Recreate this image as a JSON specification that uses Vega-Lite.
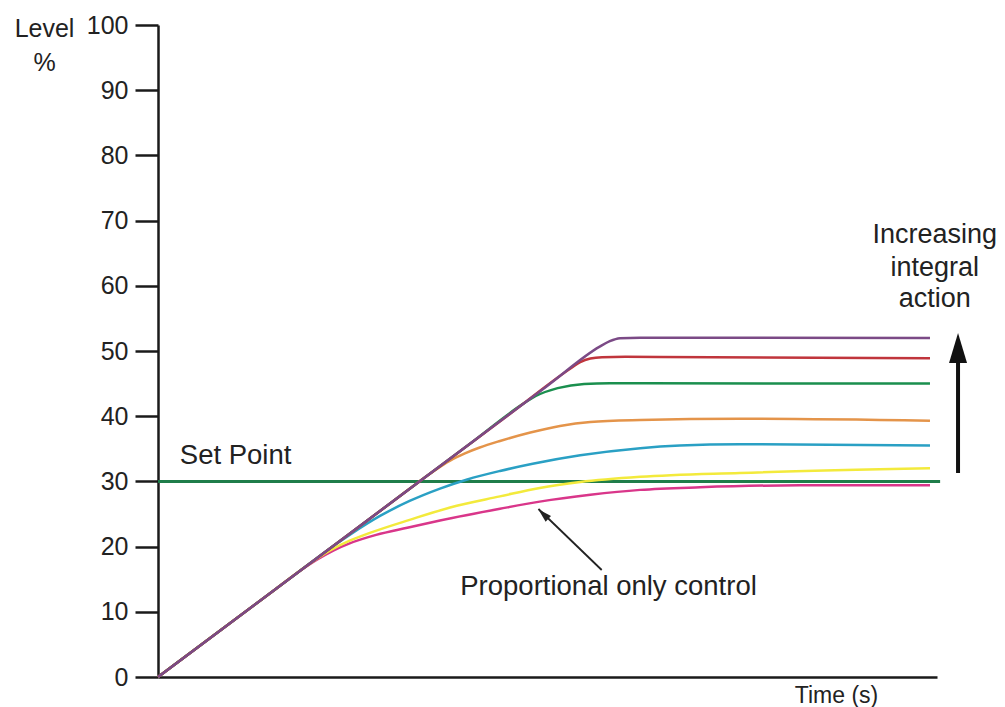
{
  "$schema": "https://vega.github.io/schema/vega-lite/v6.json",
  "width": 779,
  "height": 652,
  "autosize": {"type": "none"},
  "padding": {"left": 158, "top": 25, "right": 68, "bottom": 30},
  "background": "white",
  "config": {
    "view": {"stroke": null},
    "font": "Liberation Sans",
    "axis": {"labelFont": "Liberation Sans", "titleFont": "Liberation Sans", "titleFontWeight": "normal", "grid": false, "domainColor": "#1a1a1a", "tickColor": "#1a1a1a", "labelColor": "#222222", "titleColor": "#222222"}
  },
  "datasets": {
    "curves": [
      {"s": "P only", "t": 0, "v": 0},
      {"s": "P only", "t": 15, "v": 13.4},
      {"s": "P only", "t": 18.2, "v": 16.26},
      {"s": "P only", "t": 20.4, "v": 18.0},
      {"s": "P only", "t": 22.5, "v": 19.4},
      {"s": "P only", "t": 24.6, "v": 20.5},
      {"s": "P only", "t": 28.0, "v": 21.8},
      {"s": "P only", "t": 32.0, "v": 22.9},
      {"s": "P only", "t": 36.2, "v": 24.0},
      {"s": "P only", "t": 43.9, "v": 25.8},
      {"s": "P only", "t": 49.0, "v": 26.9},
      {"s": "P only", "t": 55.5, "v": 27.95},
      {"s": "P only", "t": 61.9, "v": 28.7},
      {"s": "P only", "t": 69.6, "v": 29.1},
      {"s": "P only", "t": 82.4, "v": 29.4},
      {"s": "P only", "t": 99.1, "v": 29.4},
      {"s": "I1", "t": 0, "v": 0},
      {"s": "I1", "t": 15, "v": 13.4},
      {"s": "I1", "t": 19.5, "v": 17.42},
      {"s": "I1", "t": 22.1, "v": 19.4},
      {"s": "I1", "t": 24.6, "v": 20.9},
      {"s": "I1", "t": 27.2, "v": 22.1},
      {"s": "I1", "t": 32.3, "v": 24.1},
      {"s": "I1", "t": 37.5, "v": 26.0},
      {"s": "I1", "t": 43.9, "v": 27.7},
      {"s": "I1", "t": 49.0, "v": 29.0},
      {"s": "I1", "t": 54.2, "v": 29.9},
      {"s": "I1", "t": 61.9, "v": 30.7},
      {"s": "I1", "t": 74.7, "v": 31.3},
      {"s": "I1", "t": 99.1, "v": 32.0},
      {"s": "I2", "t": 0, "v": 0},
      {"s": "I2", "t": 18, "v": 16.08},
      {"s": "I2", "t": 22.1, "v": 19.75},
      {"s": "I2", "t": 24.6, "v": 21.8},
      {"s": "I2", "t": 28.5, "v": 24.7},
      {"s": "I2", "t": 32.3, "v": 27.0},
      {"s": "I2", "t": 36.2, "v": 28.9},
      {"s": "I2", "t": 39.7, "v": 30.3},
      {"s": "I2", "t": 43.9, "v": 31.6},
      {"s": "I2", "t": 48.1, "v": 32.7},
      {"s": "I2", "t": 54.2, "v": 34.0},
      {"s": "I2", "t": 61.9, "v": 35.1},
      {"s": "I2", "t": 67.0, "v": 35.5},
      {"s": "I2", "t": 74.7, "v": 35.7},
      {"s": "I2", "t": 99.1, "v": 35.5},
      {"s": "I3", "t": 0, "v": 0},
      {"s": "I3", "t": 30, "v": 26.8},
      {"s": "I3", "t": 34.9, "v": 31.18},
      {"s": "I3", "t": 37.5, "v": 33.2},
      {"s": "I3", "t": 39.4, "v": 34.3},
      {"s": "I3", "t": 41.3, "v": 35.2},
      {"s": "I3", "t": 43.9, "v": 36.2},
      {"s": "I3", "t": 47.8, "v": 37.5},
      {"s": "I3", "t": 51.6, "v": 38.5},
      {"s": "I3", "t": 55.5, "v": 39.1},
      {"s": "I3", "t": 61.9, "v": 39.4},
      {"s": "I3", "t": 74.7, "v": 39.6},
      {"s": "I3", "t": 99.1, "v": 39.3},
      {"s": "I4", "t": 0, "v": 0},
      {"s": "I4", "t": 40, "v": 35.74},
      {"s": "I4", "t": 47.0, "v": 42.0},
      {"s": "I4", "t": 48.5, "v": 43.1},
      {"s": "I4", "t": 51.3, "v": 44.3},
      {"s": "I4", "t": 54.7, "v": 44.95},
      {"s": "I4", "t": 58.0, "v": 45.05},
      {"s": "I4", "t": 99.1, "v": 45.0},
      {"s": "I5", "t": 0, "v": 0},
      {"s": "I5", "t": 45, "v": 40.2},
      {"s": "I5", "t": 53.0, "v": 47.36},
      {"s": "I5", "t": 54.2, "v": 48.3},
      {"s": "I5", "t": 55.5, "v": 48.85},
      {"s": "I5", "t": 57.0, "v": 49.05},
      {"s": "I5", "t": 60.0, "v": 49.1},
      {"s": "I5", "t": 99.1, "v": 48.9},
      {"s": "I6", "t": 0, "v": 0},
      {"s": "I6", "t": 50, "v": 44.68},
      {"s": "I6", "t": 56.7, "v": 50.66},
      {"s": "I6", "t": 58.0, "v": 51.5},
      {"s": "I6", "t": 59.3, "v": 51.95},
      {"s": "I6", "t": 61.9, "v": 52.05},
      {"s": "I6", "t": 99.1, "v": 52.0}
    ]
  },
  "layer": [
    {
      "data": {"values": [{"t": 0, "v": 30}, {"t": 100.4, "v": 30}]},
      "mark": {"type": "line", "color": "#1f7d4a", "strokeWidth": 3},
      "encoding": {
        "x": {"field": "t", "type": "quantitative", "scale": {"domain": [0, 100], "nice": false, "zero": false},
              "axis": {"labels": false, "ticks": false, "domain": true, "domainWidth": 2.5, "title": "Time (s)", "titleFontSize": 23, "titleX": 678, "titleY": 18, "titleAlign": "center", "titleBaseline": "middle", "titleAngle": 0}},
        "y": {"field": "v", "type": "quantitative", "scale": {"domain": [0, 100], "nice": false},
              "axis": {"values": [0, 10, 20, 30, 40, 50, 60, 70, 80, 90, 100], "tickSize": 23, "tickWidth": 2.5, "domainWidth": 2.5, "labelFontSize": 25, "labelPadding": 7,
                       "title": ["Level", "%"], "titleFontSize": 25, "titleAngle": 0, "titleX": -114, "titleY": -9, "titleAlign": "center", "titleBaseline": "top", "titleLineHeight": 34}}
      }
    },
    {
      "data": {"name": "curves"},
      "mark": {"type": "line", "strokeWidth": 2.5, "interpolate": "monotone"},
      "encoding": {
        "x": {"field": "t", "type": "quantitative"},
        "y": {"field": "v", "type": "quantitative"},
        "color": {"field": "s", "type": "nominal", "legend": null,
                  "scale": {"domain": ["P only", "I1", "I2", "I3", "I4", "I5", "I6"],
                            "range": ["#d9368a", "#f3ea3c", "#2aa0c4", "#e4944a", "#1a8f4e", "#c0353c", "#7b4a86"]}}
      }
    },
    {
      "data": {"values": [
        {"label": "Set Point", "t": 2.8, "v": 32.7},
        {"label": "Proportional only control", "t": 38.8, "v": 12.6}
      ]},
      "mark": {"type": "text", "fontSize": 27.5, "align": "left", "baseline": "alphabetic", "color": "#222222", "font": "Liberation Sans"},
      "encoding": {
        "x": {"field": "t", "type": "quantitative"},
        "y": {"field": "v", "type": "quantitative"},
        "text": {"field": "label"}
      }
    },
    {
      "data": {"values": [
        {"label": "Increasing", "t": 99.7, "v": 66.6},
        {"label": "integral", "t": 99.7, "v": 61.5},
        {"label": "action", "t": 99.7, "v": 56.7}
      ]},
      "mark": {"type": "text", "fontSize": 27, "align": "center", "baseline": "alphabetic", "color": "#222222", "font": "Liberation Sans"},
      "encoding": {
        "x": {"field": "t", "type": "quantitative"},
        "y": {"field": "v", "type": "quantitative"},
        "text": {"field": "label"}
      }
    },
    {
      "data": {"values": [{"t": 48.84, "v": 25.77, "t2": 56.96, "v2": 16.41}]},
      "mark": {"type": "rule", "color": "#222222", "strokeWidth": 1.8},
      "encoding": {
        "x": {"field": "t", "type": "quantitative"},
        "y": {"field": "v", "type": "quantitative"},
        "x2": {"field": "t2"},
        "y2": {"field": "v2"}
      }
    },
    {
      "data": {"values": [{"t": 49.46, "v": 25.0}]},
      "mark": {"type": "point", "shape": "M0,-1L0.55,1L-0.55,1Z", "size": 196, "angle": 314, "filled": true, "color": "#222222", "opacity": 1},
      "encoding": {
        "x": {"field": "t", "type": "quantitative"},
        "y": {"field": "v", "type": "quantitative"}
      }
    },
    {
      "data": {"values": [{"t": 102.7, "v": 31.29, "v2": 50.3}]},
      "mark": {"type": "rule", "color": "#111111", "strokeWidth": 4},
      "encoding": {
        "x": {"field": "t", "type": "quantitative"},
        "y": {"field": "v", "type": "quantitative"},
        "y2": {"field": "v2"}
      }
    },
    {
      "data": {"values": [{"t": 102.7, "v": 50.46}]},
      "mark": {"type": "point", "shape": "M0,-1L0.6,1L-0.6,1Z", "size": 900, "filled": true, "color": "#111111", "opacity": 1},
      "encoding": {
        "x": {"field": "t", "type": "quantitative"},
        "y": {"field": "v", "type": "quantitative"}
      }
    }
  ]
}
